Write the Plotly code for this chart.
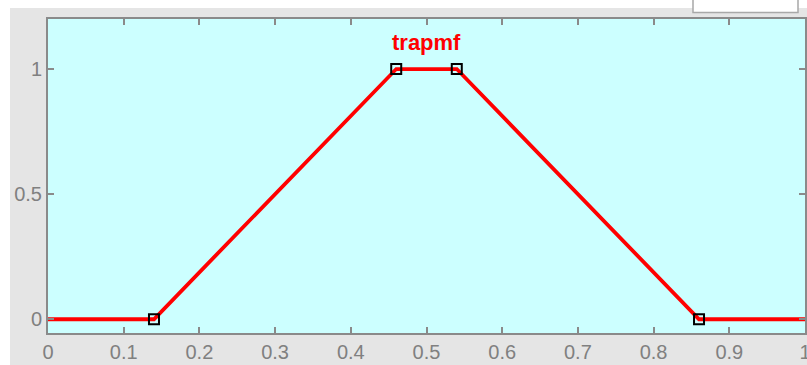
import plotly.graph_objects as go

# Data
x_vals = [0.0, 0.14, 0.46, 0.54, 0.86, 1.0]
y_vals = [0.0, 0.0, 1.0, 1.0, 0.0, 0.0]
param_x = [0.14, 0.46, 0.54, 0.86]
param_y = [0.0, 1.0, 1.0, 0.0]
x_ticks = [0, 0.1, 0.2, 0.3, 0.4, 0.5, 0.6, 0.7, 0.8, 0.9, 1]
x_tick_text = ["0", "0.1", "0.2", "0.3", "0.4", "0.5", "0.6", "0.7", "0.8", "0.9", "1"]
y_ticks = [0, 0.5, 1]
y_tick_text = ["0", "0.5", "1"]
title_text = "trapmf"

W, H = 807, 365
L, R, T, B = 48, 2, 19, 32
pw = W - L - R
ph = H - T - B

def px(xp):
    return (xp - L) / pw

def py(yp):
    return (H - B - yp) / ph

fig = go.Figure()
fig.add_trace(go.Scatter(x=x_vals, y=y_vals, mode="lines",
                         line=dict(color="#ff0000", width=3.8),
                         hoverinfo="skip", showlegend=False))
fig.add_trace(go.Scatter(x=param_x, y=param_y, mode="markers",
                         marker=dict(symbol="square-open", size=10, color="black",
                                     line=dict(width=2, color="black")),
                         hoverinfo="skip", showlegend=False))

axis_common = dict(showgrid=False, zeroline=False, showline=True, linecolor="#8a8a8a",
                   linewidth=2, mirror="ticks", ticks="inside", ticklen=6, tickwidth=2,
                   tickcolor="#8a8a8a", ticklabeloverflow="allow", automargin=False,
                   tickfont=dict(family="Liberation Sans, Arial", size=20, color="#808080"))
fig.update_xaxes(range=[0, 1], tickvals=x_ticks, ticktext=x_tick_text, **axis_common)
fig.update_yaxes(range=[-0.055, 1.2], tickvals=y_ticks, ticktext=y_tick_text, **axis_common)

fig.add_annotation(x=0.5, y=1.108, xref="x", yref="y", text="<b>" + title_text + "</b>",
                   showarrow=False, font=dict(family="Liberation Sans, Arial", size=22,
                                              color="#ff0000"))

shapes = [
    # white strips outside the gray figure
    dict(type="rect", xref="paper", yref="paper", x0=px(0), x1=px(W), y0=py(8), y1=py(0),
         fillcolor="white", line=dict(width=0), layer="above"),
    dict(type="rect", xref="paper", yref="paper", x0=px(0), x1=px(10), y0=py(H), y1=py(0),
         fillcolor="white", line=dict(width=0), layer="above"),
    # small white box at top right
    dict(type="rect", xref="paper", yref="paper", x0=px(693), x1=px(798), y0=py(12.5), y1=py(-3),
         fillcolor="white", line=dict(width=1.5, color="#a8a8a8"), layer="above"),
]

fig.update_layout(width=W, height=H, margin=dict(l=L, r=R, t=T, b=B, autoexpand=False),
                  paper_bgcolor="#e5e5e5", plot_bgcolor="#ccffff",
                  shapes=shapes, showlegend=False)

fig.write_html("out.html", config={"displayModeBar": False})
